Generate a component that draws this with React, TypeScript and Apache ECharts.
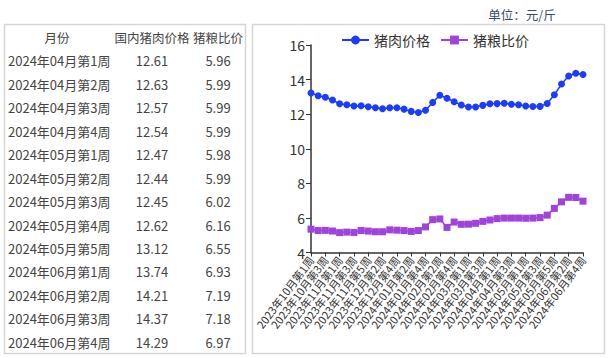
import React, { useEffect, useRef } from "react";
import * as echarts from "echarts";

const weeks: string[] = [
  "2023年10月第1周", "2023年10月第2周", "2023年10月第3周", "2023年10月第4周",
  "2023年11月第1周", "2023年11月第2周", "2023年11月第3周", "2023年11月第4周", "2023年11月第5周",
  "2023年12月第1周", "2023年12月第2周", "2023年12月第3周", "2023年12月第4周",
  "2024年01月第1周", "2024年01月第2周", "2024年01月第3周", "2024年01月第4周",
  "2024年02月第1周", "2024年02月第2周", "2024年02月第3周", "2024年02月第4周", "2024年02月第5周",
  "2024年03月第1周", "2024年03月第2周", "2024年03月第3周", "2024年03月第4周",
  "2024年04月第1周", "2024年04月第2周", "2024年04月第3周", "2024年04月第4周",
  "2024年05月第1周", "2024年05月第2周", "2024年05月第3周", "2024年05月第4周", "2024年05月第5周",
  "2024年06月第1周", "2024年06月第2周", "2024年06月第3周", "2024年06月第4周",
];

const porkPrice: number[] = [
  13.22, 13.07, 12.98, 12.82, 12.6, 12.54, 12.47, 12.49, 12.43, 12.37, 12.31, 12.37, 12.37,
  12.29, 12.16, 12.1, 12.23, 12.68, 13.09, 12.92, 12.72, 12.53, 12.41, 12.41, 12.51, 12.6,
  12.61, 12.63, 12.57, 12.54, 12.47, 12.44, 12.45, 12.62, 13.12, 13.74, 14.21, 14.37, 14.29,
];

const hogGrainRatio: number[] = [
  5.35, 5.27, 5.28, 5.24, 5.15, 5.18, 5.16, 5.27, 5.24, 5.2, 5.2, 5.31, 5.29,
  5.27, 5.22, 5.27, 5.48, 5.9, 5.94, 5.45, 5.76, 5.63, 5.64, 5.69, 5.8, 5.88,
  5.96, 5.99, 5.99, 5.99, 5.98, 5.99, 6.02, 6.16, 6.55, 6.93, 7.19, 7.18, 6.97,
];

const tableHeaders: string[] = ["月份", "国内猪肉价格", "猪粮比价"];
const tableStart = 26; // table shows the last 13 weeks

const seriesNames: string[] = ["猪肉价格", "猪粮比价"];
const unitText = "单位：元/斤";

const FONT = "'Noto Sans CJK SC', 'Noto Sans', sans-serif";

export default function App() {
  const ref = useRef<HTMLDivElement>(null);
  useEffect(() => {
    if (!ref.current) return;
    const chart = echarts.init(ref.current, undefined, { renderer: "svg" });

    const graphics: any[] = [];
    graphics.push({
      type: "rect",
      shape: { x: 4.5, y: 24.5, width: 241, height: 329 },
      style: { fill: "none", stroke: "#d6d6d6", lineWidth: 1.5 },
      silent: true,
    });
    graphics.push({
      type: "rect",
      shape: { x: 252.5, y: 24.5, width: 352, height: 329 },
      style: { fill: "none", stroke: "#d6d6d6", lineWidth: 1.5 },
      silent: true,
    });
    graphics.push({
      type: "text",
      x: 522,
      y: 14,
      style: {
        text: unitText,
        font: `12.5px ${FONT}`,
        fill: "#3a4a66",
        textAlign: "center",
        textVerticalAlign: "middle",
      },
    });
    const colX = [57, 152, 218];
    const rowH = 23.44;
    const y0 = 37.5;
    tableHeaders.forEach((h, i) => {
      graphics.push({
        type: "text",
        x: colX[i],
        y: y0,
        style: {
          text: h,
          font: `12.5px ${FONT}`,
          fill: "#444",
          textAlign: "center",
          textVerticalAlign: "middle",
        },
      });
    });
    for (let r = tableStart; r < weeks.length; r++) {
      const y = y0 + rowH * (r - tableStart + 1);
      const vals = [weeks[r], porkPrice[r].toFixed(2), hogGrainRatio[r].toFixed(2)];
      vals.forEach((v, i) => {
        graphics.push({
          type: "text",
          x: i === 0 ? 8 : colX[i],
          y,
          style: {
            text: v,
            font: `13px ${FONT}`,
            fill: "#444",
            textAlign: i === 0 ? "left" : "center",
            textVerticalAlign: "middle",
          },
        });
      });
    }

    chart.setOption({
      animation: false,
      textStyle: { fontFamily: FONT },
      graphic: graphics,
      legend: {
        data: seriesNames,
        left: 336,
        top: 28,
        itemWidth: 27,
        itemHeight: 11,
        itemGap: 10,
        textStyle: { fontSize: 14, color: "#333", fontFamily: FONT },
      },
      grid: { left: 311, right: 26, top: 45, bottom: 105.5, containLabel: false },
      xAxis: {
        type: "category",
        data: weeks,
        boundaryGap: false,
        axisLine: { lineStyle: { color: "#333", width: 1.5 } },
        axisTick: { show: true, interval: 1, length: 4, lineStyle: { color: "#333" } },
        axisLabel: {
          interval: 1,
          rotate: 53,
          fontSize: 11,
          color: "#333",
          margin: 5,
          fontFamily: FONT,
        },
      },
      yAxis: {
        type: "value",
        min: 4,
        max: 16,
        interval: 2,
        splitLine: { show: false },
        axisLine: { show: true, lineStyle: { color: "#333", width: 1.5 } },
        axisTick: { show: true, length: 5, lineStyle: { color: "#333" } },
        axisLabel: { fontSize: 14, color: "#333", margin: 6, fontFamily: FONT },
      },
      series: [
        {
          name: seriesNames[0],
          type: "line",
          data: porkPrice,
          symbol: "circle",
          symbolSize: 7,
          showAllSymbol: true,
          itemStyle: { color: "#1a3cff" },
          lineStyle: { color: "#1a3cff", width: 1.5 },
        },
        {
          name: seriesNames[1],
          type: "line",
          data: hogGrainRatio,
          symbol: "rect",
          symbolSize: 7,
          showAllSymbol: true,
          itemStyle: { color: "#a043dc" },
          lineStyle: { color: "#a043dc", width: 1.5 },
        },
      ],
    });
    return () => chart.dispose();
  }, []);
  return (
    <div
      ref={ref}
      style={{ position: "fixed", left: 0, top: 0, width: 609, height: 358, background: "#fff" }}
    />
  );
}
